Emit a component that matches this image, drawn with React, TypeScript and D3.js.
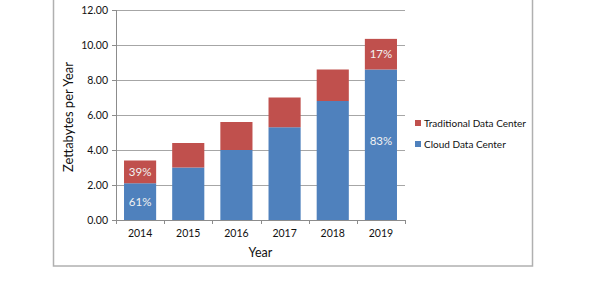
import { useEffect, useRef } from "react";
import * as d3 from "d3";

const years = ["2014", "2015", "2016", "2017", "2018", "2019"];
const cloud = [2.1, 3.0, 4.0, 5.3, 6.8, 8.6];
const traditional = [1.3, 1.4, 1.6, 1.7, 1.8, 1.75];
const labels: Record<string, [string, string]> = {
  "2014": ["61%", "39%"],
  "2019": ["83%", "17%"],
};
const yTicks = [0, 2, 4, 6, 8, 10, 12];

export default function App() {
  const ref = useRef<SVGSVGElement>(null);

  useEffect(() => {
    const width = 591;
    const height = 281;
    const font = "Lato, 'Open Sans', sans-serif";

    const svg = d3.select(ref.current).attr("width", width).attr("height", height);
    svg.selectAll("*").remove();

    // outer chart frame
    svg.append("rect")
      .attr("x", 53.5).attr("y", -5).attr("width", 479).attr("height", 271)
      .attr("fill", "white").attr("stroke", "#b0b0b0").attr("stroke-width", 1.5);

    const left = 116, right = 405, top = 10, bottom = 220;

    const x = d3.scaleBand().domain(years).range([left, right]).paddingInner(0.333).paddingOuter(0.1665);
    const y = d3.scaleLinear().domain([0, 12]).range([bottom, top]);

    // gridlines
    svg.append("g").selectAll("line").data(yTicks.filter(d => d > 0)).join("line")
      .attr("x1", left).attr("x2", right)
      .attr("y1", d => Math.round(y(d)) + 0.5).attr("y2", d => Math.round(y(d)) + 0.5)
      .attr("stroke", "#a6a6a6").attr("stroke-width", 1);

    const series = [
      { key: "cloud", values: cloud, color: "#4f81bd", base: cloud.map(() => 0) },
      { key: "trad", values: traditional, color: "#c0504d", base: cloud },
    ];

    series.forEach((s, si) => {
      svg.append("g").selectAll("rect").data(years).join("rect")
        .attr("x", d => x(d)!)
        .attr("width", x.bandwidth())
        .attr("y", (_, i) => y(s.base[i] + s.values[i]))
        .attr("height", (_, i) => y(s.base[i]) - y(s.base[i] + s.values[i]))
        .attr("fill", s.color);

      svg.append("g").selectAll("text").data(years.filter(d => labels[d])).join("text")
        .attr("x", d => x(d)! + x.bandwidth() / 2)
        .attr("y", d => {
          const i = years.indexOf(d);
          return y(s.base[i] + s.values[i] / 2) + (d === "2019" && si === 0 ? -4 : 0);
        })
        .attr("dy", "0.35em")
        .attr("text-anchor", "middle")
        .attr("font-family", font).attr("font-size", 11.5)
        .attr("fill", "#f2f2f2")
        .text(d => labels[d][si]);
    });

    // axes
    const axisColor = "#8c8c8c";
    svg.append("line").attr("x1", left + 0.5).attr("x2", left + 0.5).attr("y1", top).attr("y2", bottom)
      .attr("stroke", axisColor);
    svg.append("line").attr("x1", left).attr("x2", right).attr("y1", bottom + 0.5).attr("y2", bottom + 0.5)
      .attr("stroke", axisColor);

    svg.append("g").selectAll("line").data(yTicks).join("line")
      .attr("x1", left - 4).attr("x2", left)
      .attr("y1", d => Math.round(y(d)) + 0.5).attr("y2", d => Math.round(y(d)) + 0.5)
      .attr("stroke", axisColor);

    const step = (right - left) / years.length;
    svg.append("g").selectAll("line").data(d3.range(years.length + 1)).join("line")
      .attr("x1", i => Math.round(left + i * step) + 0.5).attr("x2", i => Math.round(left + i * step) + 0.5)
      .attr("y1", bottom).attr("y2", bottom + 4)
      .attr("stroke", axisColor);

    svg.append("g").selectAll("text").data(yTicks).join("text")
      .attr("x", left - 8).attr("y", d => y(d)).attr("dy", "0.35em")
      .attr("text-anchor", "end")
      .attr("font-family", font).attr("font-size", 10.5).attr("fill", "#111")
      .text(d => d3.format(".2f")(d));

    svg.append("g").selectAll("text").data(years).join("text")
      .attr("x", d => x(d)! + x.bandwidth() / 2).attr("y", 233).attr("dy", "0.35em")
      .attr("text-anchor", "middle")
      .attr("font-family", font).attr("font-size", 10.5).attr("fill", "#111")
      .text(d => d);

    svg.append("text")
      .attr("x", (left + right) / 2).attr("y", 253).attr("dy", "0.35em")
      .attr("text-anchor", "middle")
      .attr("font-family", font).attr("font-size", 12.5).attr("fill", "#111")
      .text("Year");

    svg.append("text")
      .attr("transform", `translate(68,${(top + bottom) / 2 + 2}) rotate(-90)`)
      .attr("dy", "0.35em")
      .attr("text-anchor", "middle")
      .attr("font-family", font).attr("font-size", 13).attr("fill", "#111")
      .text("Zettabytes per Year");

    // legend
    const legend = [
      { label: "Traditional Data Center", color: "#c0504d", yc: 123 },
      { label: "Cloud Data Center", color: "#4f81bd", yc: 144 },
    ];
    const lg = svg.append("g").selectAll("g").data(legend).join("g");
    lg.append("rect").attr("x", 415).attr("y", d => d.yc - 3).attr("width", 6).attr("height", 6)
      .attr("fill", d => d.color);
    lg.append("text").attr("x", 424).attr("y", d => d.yc).attr("dy", "0.35em")
      .attr("font-family", font).attr("font-size", 10).attr("fill", "#111")
      .text(d => d.label);
  }, []);

  return <svg ref={ref} style={{ position: "absolute", left: 0, top: 0 }}></svg>;
}
